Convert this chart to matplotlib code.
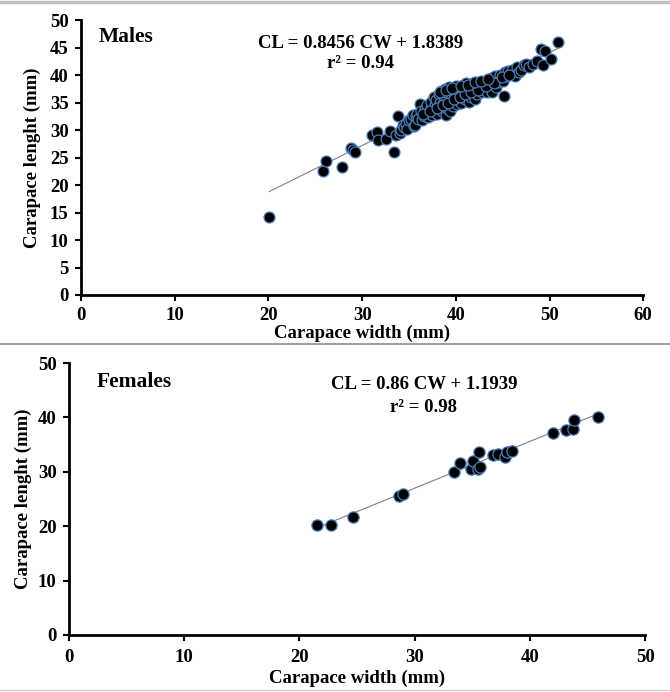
import matplotlib
matplotlib.use("Agg")
import matplotlib.pyplot as plt
import numpy as np

# ---------------- data ----------------
male_cw = [20.1, 25.8, 26.1, 27.8, 28.8, 29.0, 29.2, 31.0, 31.6, 31.7, 32.6, 33.0, 33.4, 33.6, 33.8, 34.0,
           34.2, 34.4, 34.5, 34.7, 34.8, 35.0, 35.2, 35.4, 35.5, 35.6, 35.7, 35.9, 36.0, 36.2, 36.3, 36.4,
           36.6, 36.7, 36.9, 37.0, 37.1, 37.3, 37.4, 37.5, 37.6, 37.7, 37.8, 37.9, 38.0, 38.1, 38.2, 38.3,
           38.4, 38.5, 38.6, 38.7, 38.8, 38.9, 39.0, 39.1, 39.2, 39.3, 39.4, 39.5, 39.6, 39.7, 39.8, 39.9,
           40.0, 40.1, 40.2, 40.3, 40.4, 40.5, 40.6, 40.7, 40.8, 40.9, 41.0, 41.1, 41.2, 41.3, 41.4, 41.5,
           41.6, 41.7, 41.8, 41.9, 42.0, 42.1, 42.2, 42.3, 42.5, 42.6, 42.8, 43.0, 43.1, 43.3, 43.5, 43.6,
           43.8, 43.9, 44.0, 44.2, 44.3, 44.5, 44.7, 44.8, 45.0, 45.1, 45.2, 45.4, 45.6, 45.8, 46.0, 46.3,
           46.5, 46.7, 47.0, 47.3, 47.5, 47.8, 48.2, 48.7, 49.1, 49.3, 49.5, 50.2, 50.9,
           36.5, 37.2, 38.0, 38.6, 39.2, 39.8, 40.4, 41.0, 41.6, 42.4, 43.2, 44.1, 44.9, 45.7,
           38.3, 39.0, 39.6, 40.6, 41.3, 42.0, 42.7, 43.4]
male_cl = [14.2, 22.5, 24.3, 23.3, 26.8, 26.3, 26.0, 29.2, 29.6, 28.3, 28.4, 29.9, 26.1, 29.2, 32.5, 29.5,
           30.0, 31.0, 30.5, 31.2, 30.2, 31.8, 32.0, 32.8, 30.8, 31.0, 32.5, 33.0, 32.0, 34.8, 33.5, 31.8,
           32.6, 33.9, 34.5, 32.4, 33.2, 34.0, 35.2, 32.8, 33.6, 36.0, 34.6, 35.5, 33.0, 34.2, 36.5, 35.0,
           37.2, 33.5, 34.8, 36.0, 37.5, 32.8, 35.4, 34.0, 36.8, 37.8, 33.5, 35.0, 36.2, 34.4, 37.0, 35.8,
           38.0, 34.8, 36.5, 35.4, 37.5, 36.0, 34.9, 37.0, 38.3, 36.3, 35.6, 38.6, 37.2, 36.6, 35.1, 38.0,
           36.0, 37.6, 38.5, 36.8, 35.7, 37.8, 38.4, 36.5, 37.3, 38.0, 36.9, 37.6, 38.6, 37.0, 39.0, 38.0,
           39.5, 36.9, 38.5, 39.8, 37.8, 38.8, 40.0, 39.2, 38.9, 36.3, 40.5, 39.8, 40.8, 40.2, 41.0, 39.8,
           41.5, 40.6, 41.0, 41.8, 42.0, 41.5, 42.0, 42.5, 44.7, 41.9, 44.4, 43.0, 46.0,
           32.9, 33.4, 34.1, 34.5, 35.0, 35.6, 36.1, 36.5, 36.9, 37.4, 38.0, 38.6, 39.6, 40.0,
           36.9, 37.4, 37.6, 38.1, 38.2, 38.7, 38.9, 39.3]

female_cw = [21.55, 22.7, 24.6, 28.6, 29.0, 33.4, 33.9, 34.9, 35.05, 35.5, 35.7, 35.6, 36.8, 37.2,
             37.8, 38.0, 38.4, 42.0, 43.1, 43.7, 43.85, 45.9]
female_cl = [20.2, 20.2, 21.6, 25.6, 26.0, 30.0, 31.6, 30.5, 32.0, 30.5, 30.8, 33.7, 33.1, 33.2,
             32.8, 33.7, 33.9, 37.1, 37.7, 37.9, 39.5, 40.1]

male_slope, male_icpt = 0.8456, 1.8389
female_slope, female_icpt = 0.86, 1.1939

male_xticks = [0, 10, 20, 30, 40, 50, 60]
male_yticks = [0, 5, 10, 15, 20, 25, 30, 35, 40, 45, 50]
female_xticks = [0, 10, 20, 30, 40, 50]
female_yticks = [0, 10, 20, 30, 40, 50]

# ---------------- style ----------------
plt.rcParams['font.family'] = ['Liberation Serif', 'DejaVu Serif']
plt.rcParams['font.weight'] = 'bold'

fig = plt.figure(figsize=(6.70, 6.92), dpi=100)

FS = 13.5

def style_axes(ax, xticks, yticks, xmax, ymax, xpad, xlabpad, ypad, ylabpad):
    ax.set_xlim(0, xmax)
    ax.set_ylim(0, ymax)
    ax.set_xticks(xticks)
    ax.set_yticks(yticks)
    for s in ['top', 'right']:
        ax.spines[s].set_visible(False)
    for s in ['left', 'bottom']:
        ax.spines[s].set_linewidth(2.0)
        ax.spines[s].set_color('black')
    ax.tick_params(direction='out', length=4, width=1.5, labelsize=FS)
    ax.tick_params(axis='x', pad=xpad)
    ax.tick_params(axis='y', pad=ypad)
    for lab in ax.get_xticklabels() + ax.get_yticklabels():
        lab.set_fontweight('bold')
    ax.set_xlabel('Carapace width (mm)', fontsize=FS, fontweight='bold', labelpad=xlabpad)
    ax.set_ylabel('Carapace lenght (mm)', fontsize=FS, fontweight='bold', labelpad=ylabpad)

# Top panel: males
ax1 = fig.add_axes([0.121, 0.5737, 0.839, 0.397])
lx = np.array([min(male_cw), max(male_cw)])
ax1.plot(lx, male_slope * lx + male_icpt, color='#808080', lw=0.8, zorder=1)
ax1.scatter(male_cw, male_cl, s=62, c='black', edgecolors='#4a7ebb', linewidths=0.9, zorder=2)
style_axes(ax1, male_xticks, male_yticks, 60, 50, xpad=5, xlabpad=0, ypad=5, ylabpad=6)
ax1.text(1.9, 46.9, 'Males', fontsize=15.5, fontweight='bold', va='center', ha='left')
ax1.text(29.8, 45.8, 'CL = 0.8456 CW + 1.8389', fontsize=FS, fontweight='bold', ha='center', va='center')
ax1.text(29.8, 42.2, 'r² = 0.94', fontsize=FS, fontweight='bold', ha='center', va='center')

# Bottom panel: females
ax2 = fig.add_axes([0.103, 0.0824, 0.860, 0.393])
fx = np.array([min(female_cw), max(female_cw)])
ax2.plot(fx, female_slope * fx + female_icpt, color='#808080', lw=0.8, zorder=1)
ax2.scatter(female_cw, female_cl, s=66, c='black', edgecolors='#4a7ebb', linewidths=0.9, zorder=2)
style_axes(ax2, female_xticks, female_yticks, 50, 50, xpad=6, xlabpad=3, ypad=5, ylabpad=4)
ax2.text(2.4, 46.5, 'Females', fontsize=15.5, fontweight='bold', va='center', ha='left')
ax2.text(30.8, 46.0, 'CL = 0.86 CW + 1.1939', fontsize=FS, fontweight='bold', ha='center', va='center')
ax2.text(30.8, 41.9, 'r² = 0.98', fontsize=FS, fontweight='bold', ha='center', va='center')

# separator lines
fig.add_artist(plt.Line2D([0, 1], [1 - 344 / 692, 1 - 344 / 692], color='#a0a0a0', lw=1.5, transform=fig.transFigure))
fig.add_artist(plt.Line2D([0, 1], [1 - 1.5 / 692, 1 - 1.5 / 692], color='#c0c0c0', lw=2.5, transform=fig.transFigure))
fig.add_artist(plt.Line2D([0, 1], [1 - 690 / 692, 1 - 690 / 692], color='#d0d0d0', lw=1.0, transform=fig.transFigure))

fig.savefig('out.png', dpi=100)
